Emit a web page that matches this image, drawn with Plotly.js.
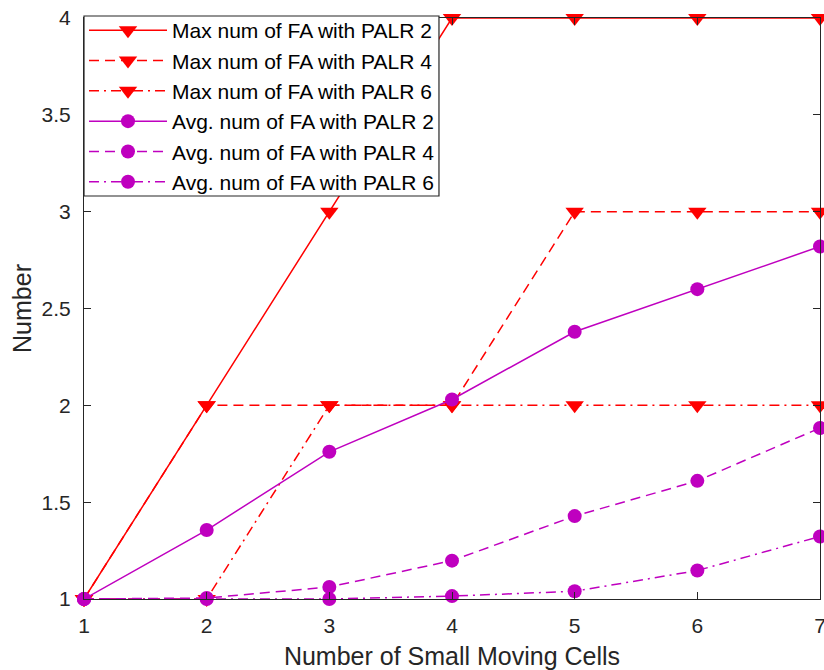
<!DOCTYPE html>
<html>
<head>
<meta charset="utf-8">
<script src="https://cdn.plot.ly/plotly-3.0.1.min.js"></script>
<style>html,body{margin:0;padding:0;background:#fff;}#chart{width:824px;height:670px;}</style>
</head>
<body>
<div id="chart"></div>
<script>
const cells = [1, 2, 3, 4, 5, 6, 7];
const maxPalr2 = [1, 2, 3, 4, 4, 4, 4];
const maxPalr4 = [1, 2, 2, 2, 3, 3, 3];
const maxPalr6 = [1, 1, 2, 2, 2, 2, 2];
const avgPalr2 = [1, 1.356, 1.76, 2.03, 2.38, 2.60, 2.82];
const avgPalr4 = [1, 1.005, 1.062, 1.198, 1.428, 1.61, 1.883];
const avgPalr6 = [1, 1.0, 1.0, 1.015, 1.04, 1.147, 1.323];
const names = [
  'Max num of FA with PALR 2', 'Max num of FA with PALR 4', 'Max num of FA with PALR 6',
  'Avg. num of FA with PALR 2', 'Avg. num of FA with PALR 4', 'Avg. num of FA with PALR 6'
];
const yTicks = [1, 1.5, 2, 2.5, 3, 3.5, 4];
const xTicks = [1, 2, 3, 4, 5, 6, 7];

const RED = '#FF0000', MAG = '#BF00BF';
const DASH = '10px,6px', DASHDOT = '10px,5px,2px,5px';
const series = [
  [maxPalr2, RED, 'solid', 'triangle-down', 16],
  [maxPalr4, RED, DASH, 'triangle-down', 16],
  [maxPalr6, RED, DASHDOT, 'triangle-down', 16],
  [avgPalr2, MAG, 'solid', 'circle', 14],
  [avgPalr4, MAG, DASH, 'circle', 14],
  [avgPalr6, MAG, DASHDOT, 'circle', 14]
];
const traces = series.map((s, i) => ({
  x: cells, y: s[0], name: names[i], type: 'scatter', mode: 'lines+markers',
  line: {color: s[1], dash: s[2], width: 1.5},
  marker: {symbol: s[3], size: s[4], color: s[1]},
  cliponaxis: false
}));
const FAM = 'Liberation Sans, Arial, sans-serif';
const layout = {
  width: 824, height: 670,
  margin: {l: 84, r: 4, t: 18, b: 71},
  paper_bgcolor: '#fff', plot_bgcolor: '#fff',
  showlegend: true,
  font: {family: FAM, size: 21, color: '#262626'},
  xaxis: {
    range: [1, 7], tickvals: xTicks, ticktext: xTicks.map(String),
    ticks: 'inside', ticklen: 7, tickcolor: '#262626', showline: true, linecolor: '#262626', linewidth: 1,
    mirror: 'ticks', showgrid: false, zeroline: false, ticklabeloverflow: 'allow',
    ticklabelstandoff: 8,
    tickfont: {family: FAM, size: 21, color: '#262626'},
    title: {text: 'Number of Small Moving Cells', font: {family: FAM, size: 25, color: '#262626'}, standoff: 12}
  },
  yaxis: {
    range: [1, 4], tickvals: yTicks, ticktext: yTicks.map(String),
    ticks: 'inside', ticklen: 7, tickcolor: '#262626', showline: true, linecolor: '#262626', linewidth: 1,
    mirror: 'ticks', showgrid: false, zeroline: false, ticklabeloverflow: 'allow',
    ticklabelstandoff: 8,
    tickfont: {family: FAM, size: 21, color: '#262626'},
    title: {text: 'Number', font: {family: FAM, size: 25, color: '#262626'}, standoff: 2}
  },
  shapes: [{
    type: 'rect', xref: 'paper', yref: 'paper', layer: 'above',
    x0: 0, x1: 0.4823, y0: 0.6936, y1: 1.0034,
    fillcolor: '#fff', line: {color: '#262626', width: 1.2}
  }],
  legend: {
    x: 0, y: 1.0136, xanchor: 'left', yanchor: 'top',
    bgcolor: 'rgba(0,0,0,0)', borderwidth: 0,
    itemwidth: 78,
    font: {family: FAM, size: 21, color: '#000'}
  }
};
Plotly.newPlot('chart', traces, layout, {displayModeBar: false, staticPlot: true});
</script>
</body>
</html>
